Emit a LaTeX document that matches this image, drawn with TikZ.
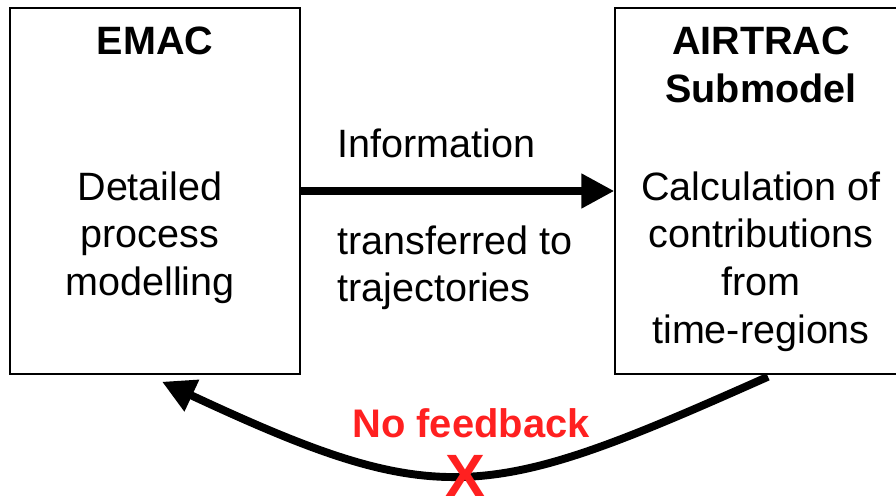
\documentclass[tikz,border=0pt]{standalone}
\usepackage{fontspec}
\setmainfont{Liberation Sans}
\usetikzlibrary{arrows.meta}
\definecolor{fbred}{RGB}{255,32,32}

\begin{document}
\begin{tikzpicture}
  [model/.style={draw, line width=0.8pt, minimum width=5.8cm, minimum height=7.32cm, inner sep=0pt},
   heading/.style={font=\fontsize{22.5}{27.2}\selectfont\bfseries, align=center, inner sep=0pt},
   bodytext/.style={font=\fontsize{22.5}{27.2}\selectfont, align=center, inner sep=0pt},
   line/.style={draw, line width=4.5pt, -{Triangle[length=0.66cm,width=0.66cm]}},
   warn/.style={text=fbred, inner sep=0pt}]

  \useasboundingbox (0,0) rectangle (17.92,9.92);

  \node [model] (emac) at (3.1,6.1) {};
  \node [model] (airtrac) at (15.2,6.1) {};

  \node [heading, anchor=base] (emactitle) at (3.1,8.82) {EMAC};
  \node [heading, anchor=north] (airtractitle) at (15.22,9.38) {AIRTRAC\\Submodel};
  \node [bodytext, anchor=north] (emacbody) at (3.0,6.5) {Detailed\\process\\modelling};
  \node [bodytext, anchor=north] (airtracbody) at (15.22,6.5) {Calculation of\\contributions\\from\\time-regions};

  \node [bodytext, anchor=base west] (info) at (6.74,6.78) {Information};
  \node [bodytext, align=left, anchor=north west] (transfer) at (6.74,5.42) {transferred to\\trajectories};

  \begin{scope}[every path/.style=line]
      \path (emac) -- (airtrac);
      \path ([xshift=0.16cm,yshift=-0.04cm]airtrac.south) to [out=204,in=335,looseness=1.3] ([xshift=0.14cm,yshift=-0.14cm]emac.south);
  \end{scope}

  \node [warn, font=\fontsize{22.7}{27}\selectfont\bfseries, anchor=base] (nofb) at (9.42,1.18) {No feedback};
  \node [warn, font=\fontsize{34}{40}\selectfont\bfseries, anchor=base] (cross) at (9.3,0) {X};
\end{tikzpicture}
\end{document}
